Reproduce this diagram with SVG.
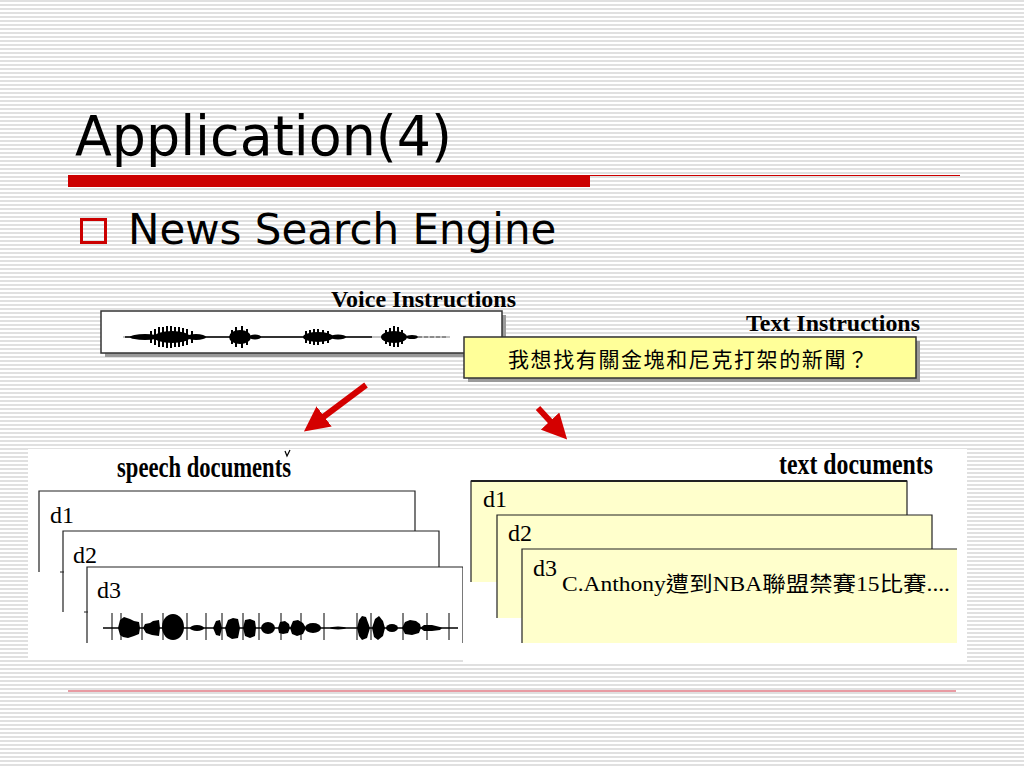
<svg xmlns="http://www.w3.org/2000/svg" width="1024" height="768" viewBox="0 0 1024 768">
<defs>
<pattern id="stripes" x="0" y="0" width="8" height="4" patternUnits="userSpaceOnUse">
<rect x="0" y="0" width="8" height="4" fill="#ffffff"/>
<rect x="0" y="0" width="8" height="2" fill="#e0e0e0"/>
</pattern>
<marker id="redhead" viewBox="0 0 10 10" refX="7" refY="5" markerWidth="4.2" markerHeight="4.2" orient="auto" markerUnits="strokeWidth">
<path d="M0,0 L10,5 L0,10 z" fill="#d40000"/>
</marker>
</defs>
<style>
.title{font-family:"DejaVu Sans",Verdana,sans-serif;font-size:56px;fill:#000}
.bullet{font-family:"DejaVu Sans",Verdana,sans-serif;font-size:42px;fill:#000}
.lbl{font-family:"Liberation Serif","Times New Roman",serif;font-weight:bold;font-size:23px;fill:#000}
.hdr{font-family:"Liberation Serif","Times New Roman",serif;font-weight:bold;font-size:29px;fill:#000}
.dn{font-family:"Liberation Serif","Times New Roman",serif;font-size:24px;fill:#000}
.cjk{font-family:"Liberation Serif","Noto Sans CJK TC",serif;font-size:21px;fill:#000}
.edge{fill:none;stroke:#222;stroke-width:1.2}
.wave{fill:#000;stroke:none}
.arrow{stroke:#d40000;stroke-width:6;fill:none}
</style>
<rect x="0" y="0" width="1024" height="768" fill="url(#stripes)"/>

<g id="title">
<text class="title" x="75" y="155" textLength="377" lengthAdjust="spacingAndGlyphs">Application(4)</text>
<rect x="68" y="175" width="522" height="12" fill="#cc0000"/>
<line x1="590" y1="175.5" x2="960" y2="175.5" stroke="#cc0000" stroke-width="1.2"/>
</g>

<g id="bullet">
<rect x="81.5" y="219.5" width="24" height="23" fill="none" stroke="#cc0000" stroke-width="3"/>
<text class="bullet" x="128" y="244">News Search Engine</text>
</g>

<g id="voice">
<text class="lbl" x="516" y="307" text-anchor="end" textLength="185" lengthAdjust="spacingAndGlyphs">Voice Instructions</text>
<rect x="105" y="315" width="401" height="42" fill="#9a9a9a"/>
<rect x="101" y="311" width="401" height="42" fill="#ffffff" stroke="#333" stroke-width="1.5"/>
<g class="wave">
<line x1="123" y1="337" x2="450" y2="337" stroke="#888" stroke-width="1"/>
<line x1="125" y1="337" x2="372" y2="337" stroke="#000" stroke-width="1.5"/>
<ellipse cx="145" cy="337" rx="15" ry="3"/>
<ellipse cx="172" cy="337" rx="18" ry="6"/>
<ellipse cx="196" cy="337" rx="10" ry="3"/>
<path d="M151,331 v12 M155,329 v16 M159,327 v20 M163,327 v20 M167,326 v22 M171,326 v22 M175,327 v20 M179,327 v20 M183,328 v18 M187,329 v16 M192,331 v12" stroke="#000" stroke-width="2"/>
<ellipse cx="240" cy="337" rx="11" ry="7"/>
<path d="M232,330 v14 M236,327 v20 M242,326 v22 M247,329 v16" stroke="#000" stroke-width="2"/>
<ellipse cx="255" cy="337" rx="6" ry="2.5"/>
<ellipse cx="318" cy="337" rx="15" ry="5"/>
<path d="M306,331 v12 M310,330 v14 M314,329 v16 M318,329 v16 M323,330 v14 M328,331 v12" stroke="#000" stroke-width="2"/>
<ellipse cx="338" cy="337" rx="8" ry="2.5"/>
<ellipse cx="394" cy="337" rx="13" ry="6"/>
<path d="M386,330 v14 M390,328 v18 M394,326 v21 M398,327 v20 M402,330 v14" stroke="#000" stroke-width="2"/>
<ellipse cx="412" cy="337" rx="6" ry="2"/>
<line x1="418" y1="337" x2="448" y2="337" stroke="#555" stroke-width="1.2" stroke-dasharray="4 2"/>
</g>
</g>

<g id="textinstr">
<text class="lbl" x="920" y="331" text-anchor="end" textLength="174" lengthAdjust="spacingAndGlyphs">Text Instructions</text>
<rect x="468" y="341" width="452" height="41" fill="#9a9a9a"/>
<rect x="464" y="337" width="452" height="41" fill="#ffff99" stroke="#333" stroke-width="1.5"/>
<text class="cjk" x="508" y="367" letter-spacing="1.6">我想找有關金塊和尼克打架的新聞？</text>
</g>

<g id="connectors">
<line class="arrow" x1="366" y1="385" x2="310" y2="427" marker-end="url(#redhead)"/>
<line class="arrow" x1="538" y1="408" x2="562" y2="434" marker-end="url(#redhead)"/>
</g>

<g id="speech-docs">
<rect x="28" y="449" width="435" height="211" fill="#ffffff"/>
<text class="hdr" x="117" y="477" textLength="174" lengthAdjust="spacingAndGlyphs">speech documents</text>
<path d="M285,451 l2,5 l3,-6" fill="none" stroke="#000" stroke-width="1.2"/>
<g id="sd1">
<path class="edge" d="M39,572 V491 H415 V531" fill="#fff"/>
<text class="dn" x="50" y="523">d1</text>
</g>
<g id="sd2">
<path d="M63,612 V531 H439 V567" fill="#fff" stroke="#222" stroke-width="1.2"/>
<line x1="60" y1="572" x2="64" y2="572" stroke="#222" stroke-width="1"/>
<text class="dn" x="73" y="563">d2</text>
</g>
<g id="sd3">
<path d="M87,643 V567 H463 V643" fill="#fff" stroke="#222" stroke-width="1.2"/>
<line x1="84" y1="612" x2="88" y2="612" stroke="#222" stroke-width="1"/>
<text class="dn" x="97" y="598">d3</text>
<g class="wave">
<line x1="103" y1="628" x2="458" y2="628" stroke="#000" stroke-width="1.5"/>
<path d="M112,613 v27 M121,613 v27 M142,613 v27 M163,613 v27 M187,613 v27 M206,613 v27 M222,613 v27 M243,613 v27 M259,613 v27 M281,613 v27 M301,613 v27 M324,613 v27 M357,613 v27 M371,613 v27 M403,613 v27 M427,613 v27 M449,613 v27" stroke="#000" stroke-width="1"/>
<path d="M118,628 L120,620 L124,617 L130,619 L134,621 L139,622 L140,628 L139,634 L134,636 L128,638 L123,637 L120,635 Z"/>
<path d="M143,628 L145,624 L150,623 L153,621 L159,620 L160,628 L159,636 L152,635 L146,633 Z"/>
<ellipse cx="173" cy="627" rx="11" ry="13"/>
<ellipse cx="197" cy="628" rx="7" ry="3"/>
<path d="M213,628 L216,621 L220,620 L222,628 L220,636 L216,635 Z"/>
<path d="M225,628 L228,620 L233,618 L238,619 L240,628 L238,638 L232,639 L227,636 Z"/>
<path d="M243,628 L245,620 L250,619 L255,621 L256,628 L255,636 L250,638 L245,636 Z"/>
<ellipse cx="268" cy="628" rx="7" ry="6"/>
<path d="M278,628 L280,622 L285,621 L289,624 L290,628 L288,633 L283,634 L279,633 Z"/>
<path d="M290,628 L293,621 L298,620 L303,623 L306,628 L303,634 L297,636 L292,634 Z"/>
<ellipse cx="313" cy="628" rx="8" ry="5"/>
<ellipse cx="338" cy="628" rx="8" ry="1.5"/>
<path d="M357,628 L359,620 L362,616 L366,617 L370,628 L367,638 L362,640 L359,636 Z"/>
<path d="M372,628 L375,619 L379,616 L383,621 L385,628 L383,636 L378,640 L374,637 Z"/>
<ellipse cx="392" cy="628" rx="6" ry="4"/>
<path d="M402,628 L405,622 L410,620 L416,621 L420,624 L421,628 L419,633 L412,635 L405,634 Z"/>
<path d="M420,628 L424,625 L432,625 L440,627 L442,628 L440,630 L432,631 L424,631 Z"/>
</g>
</g>
</g>

<g id="text-docs">
<rect x="463" y="449" width="504" height="214" fill="#ffffff"/>
<text class="hdr" x="933" y="474" text-anchor="end" font-size="25" textLength="154" lengthAdjust="spacingAndGlyphs">text documents</text>
<g id="td1">
<rect x="471" y="481" width="436" height="101" fill="#ffffcc"/>
<path d="M471,582 V481 H907 V515" fill="none" stroke="#222" stroke-width="1.2"/>
<line x1="471" y1="481" x2="907" y2="481" stroke="#222" stroke-width="2.2"/>
<text class="dn" x="483" y="507" font-size="21">d1</text>
</g>
<g id="td2">
<rect x="497" y="515" width="435" height="103" fill="#ffffcc"/>
<path d="M497,618 V515 H932 V549" fill="none" stroke="#222" stroke-width="1.2"/>
<text class="dn" x="508" y="541" font-size="21">d2</text>
</g>
<g id="td3">
<rect x="522" y="549" width="435" height="94" fill="#ffffcc"/>
<path d="M522,643 V549 H957" fill="none" stroke="#222" stroke-width="1.2"/>
<text class="dn" x="533" y="576" font-size="21">d3</text>
<text class="cjk" x="562" y="591" font-size="22" textLength="388" lengthAdjust="spacingAndGlyphs">C.Anthony遭到NBA聯盟禁賽15比賽....</text>
</g>
</g>

<line x1="68" y1="691" x2="956" y2="691" stroke="#e07a84" stroke-width="1.5"/>
</svg>
